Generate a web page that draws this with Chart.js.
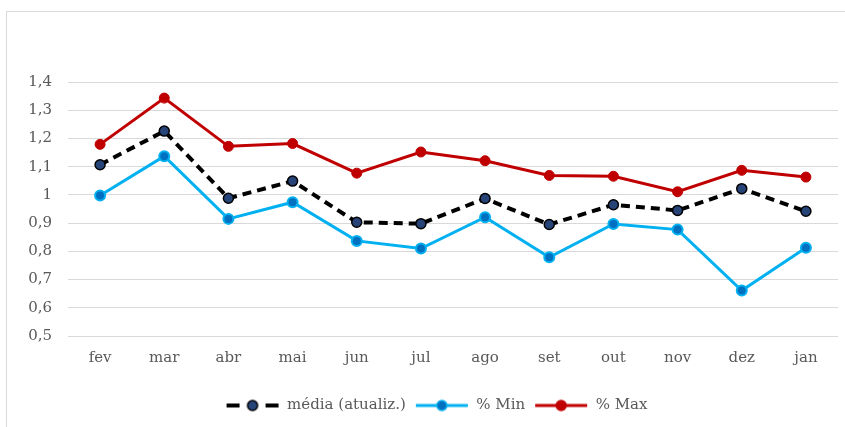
<!DOCTYPE html>
<html>
<head>
<meta charset="utf-8">
<script src="https://cdn.jsdelivr.net/npm/chart.js@4"></script>
<style>
    body { margin: 0; background: #fff; }
    #frame { position: absolute; left: 6px; top: 11px; width: 900px; height: 500px; border: 1px solid #d9d9d9; }
    #wrap { position: absolute; left: 0; top: 0; width: 845px; height: 427px; }
</style>
</head>
<body>
<div id="frame"></div>
<div id="wrap"><canvas id="chart" width="845" height="427"></canvas></div>
<script>
const months = ["fev", "mar", "abr", "mai", "jun", "jul", "ago", "set", "out", "nov", "dez", "jan"];
const mediaValues = [1.107, 1.226, 0.988, 1.049, 0.903, 0.898, 0.987, 0.895, 0.965, 0.945, 1.022, 0.942];
const minValues = [0.998, 1.137, 0.915, 0.974, 0.837, 0.810, 0.921, 0.779, 0.897, 0.877, 0.661, 0.813];
const maxValues = [1.179, 1.343, 1.172, 1.182, 1.077, 1.152, 1.121, 1.069, 1.066, 1.011, 1.087, 1.063];
const yTickLabels = ["0,5", "0,6", "0,7", "0,8", "0,9", "1", "1,1", "1,2", "1,3", "1,4"];

const textColor = "#595959";
const fontFamily = "'DejaVu Serif', 'Liberation Serif', serif";

// small legend glyph: line with a marker in the middle
function legendGlyph(lineColor, lineWidth, dash, fill, stroke) {
    const c = document.createElement("canvas");
    c.width = 54;
    c.height = 14;
    const g = c.getContext("2d");
    g.strokeStyle = lineColor;
    g.lineWidth = lineWidth;
    g.setLineDash(dash);
    g.beginPath();
    g.moveTo(1, 7);
    g.lineTo(53, 7);
    g.stroke();
    g.setLineDash([]);
    g.beginPath();
    g.arc(27, 7, 5, 0, Math.PI * 2);
    g.fillStyle = fill;
    g.fill();
    g.lineWidth = 1.5;
    g.strokeStyle = stroke;
    g.stroke();
    return c;
}

const glyphs = [
    legendGlyph("#000000", 4, [13, 39], "#264478", "#000000"),
    legendGlyph("#00B0F0", 3, [], "#0070C0", "#00B0F0"),
    legendGlyph("#C00000", 3, [], "#C00000", "#C00000"),
];
// second dash of the media glyph on the right side
(function () {
    const g = glyphs[0].getContext("2d");
    g.strokeStyle = "#000000";
    g.lineWidth = 4;
    g.beginPath();
    g.moveTo(40, 7);
    g.lineTo(53, 7);
    g.stroke();
})();

// the legend sits a bit right of centre in the original
const legendShift = {
    id: "legendShift",
    afterLayout(chart) {
        chart.legend.left += 17;
        chart.legend.right += 17;
    },
};

new Chart(document.getElementById("chart"), {
    type: "line",
    data: {
        labels: months,
        datasets: [
            {
                label: "média (atualiz.)",
                data: mediaValues,
                borderColor: "#000000",
                borderWidth: 4,
                borderDash: [9, 6],
                pointRadius: 5,
                pointBackgroundColor: "#264478",
                pointBorderColor: "#000000",
                pointBorderWidth: 1.5,
                tension: 0,
            },
            {
                label: "% Min",
                data: minValues,
                borderColor: "#00B0F0",
                borderWidth: 3,
                pointRadius: 5,
                pointBackgroundColor: "#0070C0",
                pointBorderColor: "#00B0F0",
                pointBorderWidth: 2,
                tension: 0,
            },
            {
                label: "% Max",
                data: maxValues,
                borderColor: "#C00000",
                borderWidth: 3,
                pointRadius: 5,
                pointBackgroundColor: "#C00000",
                pointBorderColor: "#C00000",
                pointBorderWidth: 1,
                tension: 0,
            },
        ],
    },
    plugins: [legendShift],
    options: {
        responsive: false,
        animation: false,
        layout: { padding: { top: 82, right: 6, left: 0, bottom: 4 } },
        plugins: {
            tooltip: { enabled: false },
            legend: {
                position: "bottom",
                labels: {
                    usePointStyle: true,
                    pointStyleWidth: 54,
                    padding: 9,
                    color: textColor,
                    font: { family: fontFamily, size: 15 },
                    generateLabels: (chart) => {
                        const items = Chart.defaults.plugins.legend.labels.generateLabels(chart);
                        items.forEach((it, i) => { it.pointStyle = glyphs[i]; });
                        return items;
                    },
                },
            },
        },
        scales: {
            x: {
                offset: true,
                grid: { display: false, drawTicks: false },
                border: { display: false },
                ticks: { color: textColor, padding: 13, font: { family: fontFamily, size: 15 } },
                afterFit: (scale) => { scale.height = 53; },
            },
            y: {
                min: 0.5,
                max: 1.4,
                grid: { color: "#d9d9d9", drawTicks: false },
                border: { display: false },
                ticks: {
                    stepSize: 0.1,
                    color: textColor,
                    padding: 16,
                    font: { family: fontFamily, size: 15 },
                    callback: (v, i) => yTickLabels[i],
                },
                afterFit: (scale) => { scale.width = 68; },
            },
        },
    },
});
</script>
</body>
</html>
